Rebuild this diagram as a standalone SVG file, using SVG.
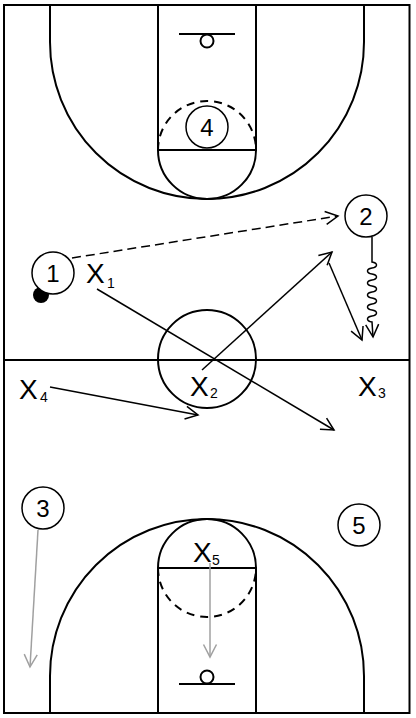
<svg xmlns="http://www.w3.org/2000/svg" width="416" height="718" viewBox="0 0 416 718">
<style>
.court{fill:none;stroke:#000;stroke-width:2}
.dash{stroke-dasharray:8 6}
.pl circle{fill:#fff;stroke:#000;stroke-width:1.5}
.num{font-family:"Liberation Sans",Arial,sans-serif;font-size:24px;text-anchor:middle;fill:#000}
.x{font-family:"Liberation Sans",Arial,sans-serif;font-size:28px;fill:#000}
.sub{font-family:"Liberation Sans",Arial,sans-serif;font-size:14px;fill:#000}
.mv{fill:none;stroke:#000;stroke-width:1.5}
.gr{fill:none;stroke:#a0a0a0;stroke-width:1.5}
</style>
<defs>
<marker id="ah" markerUnits="userSpaceOnUse" orient="auto" overflow="visible" markerWidth="1" markerHeight="1" refX="0" refY="0"><path d="M-12.5,-6.5 L0,0 L-12.5,6.5" fill="none" stroke="#000" stroke-width="1.5"/></marker>
<marker id="ahg" markerUnits="userSpaceOnUse" orient="auto" overflow="visible" markerWidth="1" markerHeight="1" refX="0" refY="0"><path d="M-12.5,-6.5 L0,0 L-12.5,6.5" fill="none" stroke="#a0a0a0" stroke-width="1.5"/></marker>
<g id="half">
<path class="court" d="M50,5 V42 A157,157 0 0 0 364,42 V5"/>
<path class="court" d="M158,5 V150 H256 V5"/>
<path class="court" d="M158,150 A49,49 0 0 0 256,150"/>
<path class="court dash" d="M158,150 A49,49 0 0 1 256,150"/>
<line class="court" x1="179" y1="34" x2="235" y2="34"/>
<circle class="court" cx="207" cy="41" r="6.5"/>
</g>
</defs>
<rect width="416" height="718" fill="#fff"/>
<g id="court">
<rect class="court" x="4" y="5" width="405.5" height="708"/>
<line class="court" x1="4" y1="360" x2="410" y2="360"/>
<circle class="court" cx="207" cy="359" r="49"/>
<use href="#half"/>
<use href="#half" transform="matrix(1 0 0 -1 0 718)"/>
</g>
<g id="connectors">
<line class="mv" x1="72" y1="258" x2="338" y2="216" stroke-dasharray="9 5" marker-end="url(#ah)"/>
<line class="mv" x1="97" y1="289" x2="334" y2="430" marker-end="url(#ah)"/>
<line class="mv" x1="202" y1="370" x2="332" y2="252" marker-end="url(#ah)"/>
<line class="mv" x1="329" y1="263" x2="362" y2="340" marker-end="url(#ah)"/>
<line class="mv" x1="50" y1="387" x2="198" y2="415" marker-end="url(#ah)"/>
<path class="mv" d="M372,237 V262 c6,1 6,5 0,6 c-6,1 -6,5 0,6 c6,1 6,5 0,6 c-6,1 -6,5 0,6 c6,1 6,5 0,6 c-6,1 -6,5 0,6 c6,1 6,5 0,6 c-6,1 -6,5 0,6 c6,1 6,5 0,6 c-6,1 -6,5 0,6 L373,337" marker-end="url(#ah)"/>
<line class="gr" x1="38" y1="530" x2="30" y2="667" marker-end="url(#ahg)"/>
<line class="gr" x1="210" y1="563" x2="210" y2="657" marker-end="url(#ahg)"/>
</g>
<g id="ball"><circle cx="41" cy="295" r="8" fill="#000"/></g>
<g id="p1" class="pl"><circle cx="53" cy="273" r="21"/><text class="num" x="53" y="281.5">1</text></g>
<g id="p2" class="pl"><circle cx="366" cy="216" r="21"/><text class="num" x="366" y="224.5">2</text></g>
<g id="p3" class="pl"><circle cx="43" cy="508" r="21"/><text class="num" x="43" y="516.5">3</text></g>
<g id="p4" class="pl"><circle cx="207" cy="127" r="21"/><text class="num" x="207" y="135.5">4</text></g>
<g id="p5" class="pl"><circle cx="359" cy="525" r="21"/><text class="num" x="359" y="533.5">5</text></g>
<g id="x1"><text class="x" x="86" y="283">X</text><text class="sub" x="107" y="288">1</text></g>
<g id="x2"><text class="x" x="190" y="396">X</text><text class="sub" x="210" y="398">2</text></g>
<g id="x3"><text class="x" x="358" y="396">X</text><text class="sub" x="378" y="398">3</text></g>
<g id="x4"><text class="x" x="19" y="399">X</text><text class="sub" x="40" y="402">4</text></g>
<g id="x5"><text class="x" x="193" y="562">X</text><text class="sub" x="212" y="565">5</text></g>
</svg>
